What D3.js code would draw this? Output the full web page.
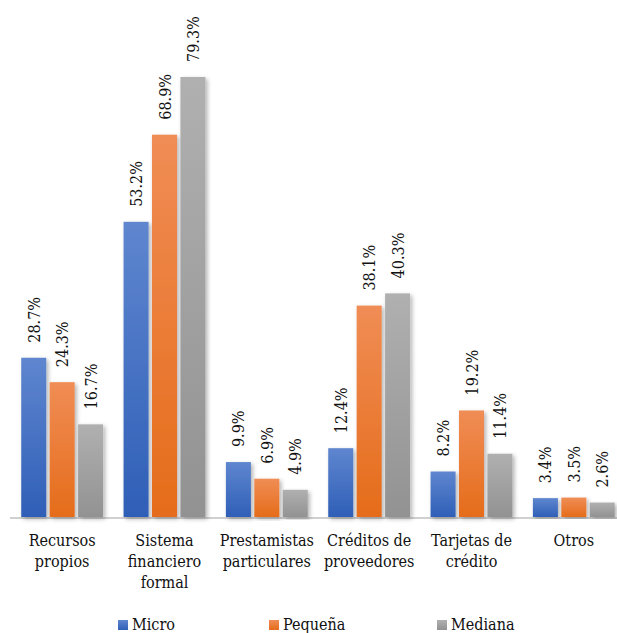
<!DOCTYPE html>
<html>
<head>
<meta charset="utf-8">
<script src="https://cdn.jsdelivr.net/npm/d3@7"></script>
<style>
body { margin:0; background:#fff; }
text { font-family: "DejaVu Serif Condensed", "DejaVu Serif", serif; font-stretch: condensed; }
</style>
</head>
<body>
<div id="chart"></div>
<script>
// datos del gráfico
var categories = [["Recursos","propios"], ["Sistema","financiero","formal"], ["Prestamistas","particulares"], ["Créditos de","proveedores"], ["Tarjetas de","crédito"], ["Otros"]];
var series = ["Micro", "Pequeña", "Mediana"];
var micro = [28.7, 53.2, 9.9, 12.4, 8.2, 3.4];
var pequena = [24.3, 68.9, 6.9, 38.1, 19.2, 3.5];
var mediana = [16.7, 79.3, 4.9, 40.3, 11.4, 2.6];
var values = [micro, pequena, mediana];
var colors = [["#5f86cf", "#2f5fb7"], ["#f08d55", "#e56c1a"], ["#b0b0b0", "#929292"]];

var width = 617, height = 633;
var baseY = 517;

var svg = d3.select("#chart").append("svg")
	.attr("width", width)
	.attr("height", height);

var defs = svg.append("defs");
for (var s = 0; s < 3; s++) {
	var g = defs.append("linearGradient").attr("id", "grad" + s)
		.attr("x1", 0).attr("y1", 0).attr("x2", 0).attr("y2", 1);
	g.append("stop").attr("offset", "0%").attr("stop-color", colors[s][0]);
	g.append("stop").attr("offset", "100%").attr("stop-color", colors[s][1]);
}
var f = defs.append("filter").attr("id", "shadow")
	.attr("x", "-20%").attr("y", "-5%").attr("width", "160%").attr("height", "115%");
f.append("feDropShadow").attr("dx", 2).attr("dy", 2).attr("stdDeviation", 2)
	.attr("flood-color", "#000").attr("flood-opacity", 0.3);

var x0 = d3.scaleBand()
	.domain(d3.range(categories.length))
	.range([11, 625])
	.paddingInner(0.2)
	.paddingOuter(0.1);

var x1 = d3.scaleBand()
	.domain(d3.range(series.length))
	.range([0, x0.bandwidth()])
	.paddingInner(0.12);

var y = d3.scaleLinear()
	.domain([0, 79.3])
	.range([baseY, 77]);

// eje horizontal
svg.append("line")
	.attr("x1", 10).attr("x2", width)
	.attr("y1", baseY + 1).attr("y2", baseY + 1)
	.style("stroke", "#d0d0d0")
	.style("stroke-width", "2px");

for (var s = 0; s < 3; s++) {
	for (var i = 0; i < categories.length; i++) {
		var v = values[s][i];
		var bx = x0(i) + x1(s);
		svg.append("rect")
			.attr("x", bx)
			.attr("y", y(v))
			.attr("width", x1.bandwidth())
			.attr("height", baseY - y(v))
			.attr("fill", "url(#grad" + s + ")")
			.attr("filter", "url(#shadow)");

		var cx = bx + x1.bandwidth() / 2 + 6;
		var ty = y(v) - 15;
		svg.append("text")
			.attr("transform", "translate(" + cx + "," + ty + ") rotate(-90)")
			.style("font-size", "16px")
			.style("fill", "#111")
			.text(v.toFixed(1) + "%");
	}
}

// etiquetas de categorías
for (var i = 0; i < categories.length; i++) {
	var t = svg.append("text")
		.attr("x", x0(i) + x0.bandwidth() / 2)
		.attr("y", 546)
		.attr("text-anchor", "middle")
		.style("font-size", "16px")
		.style("fill", "#111");
	categories[i].forEach(function (line, k) {
		t.append("tspan")
			.attr("x", x0(i) + x0.bandwidth() / 2)
			.attr("dy", k == 0 ? 0 : 21)
			.text(line);
	});
}

// leyenda
var legendX = [118, 269, 437];
for (var s = 0; s < 3; s++) {
	svg.append("rect")
		.attr("x", legendX[s])
		.attr("y", 620)
		.attr("width", 10)
		.attr("height", 10)
		.attr("fill", "url(#grad" + s + ")");
	svg.append("text")
		.attr("x", legendX[s] + 14)
		.attr("y", 630)
		.style("font-size", "16px")
		.style("fill", "#111")
		.text(series[s]);
}
</script>
</body>
</html>
